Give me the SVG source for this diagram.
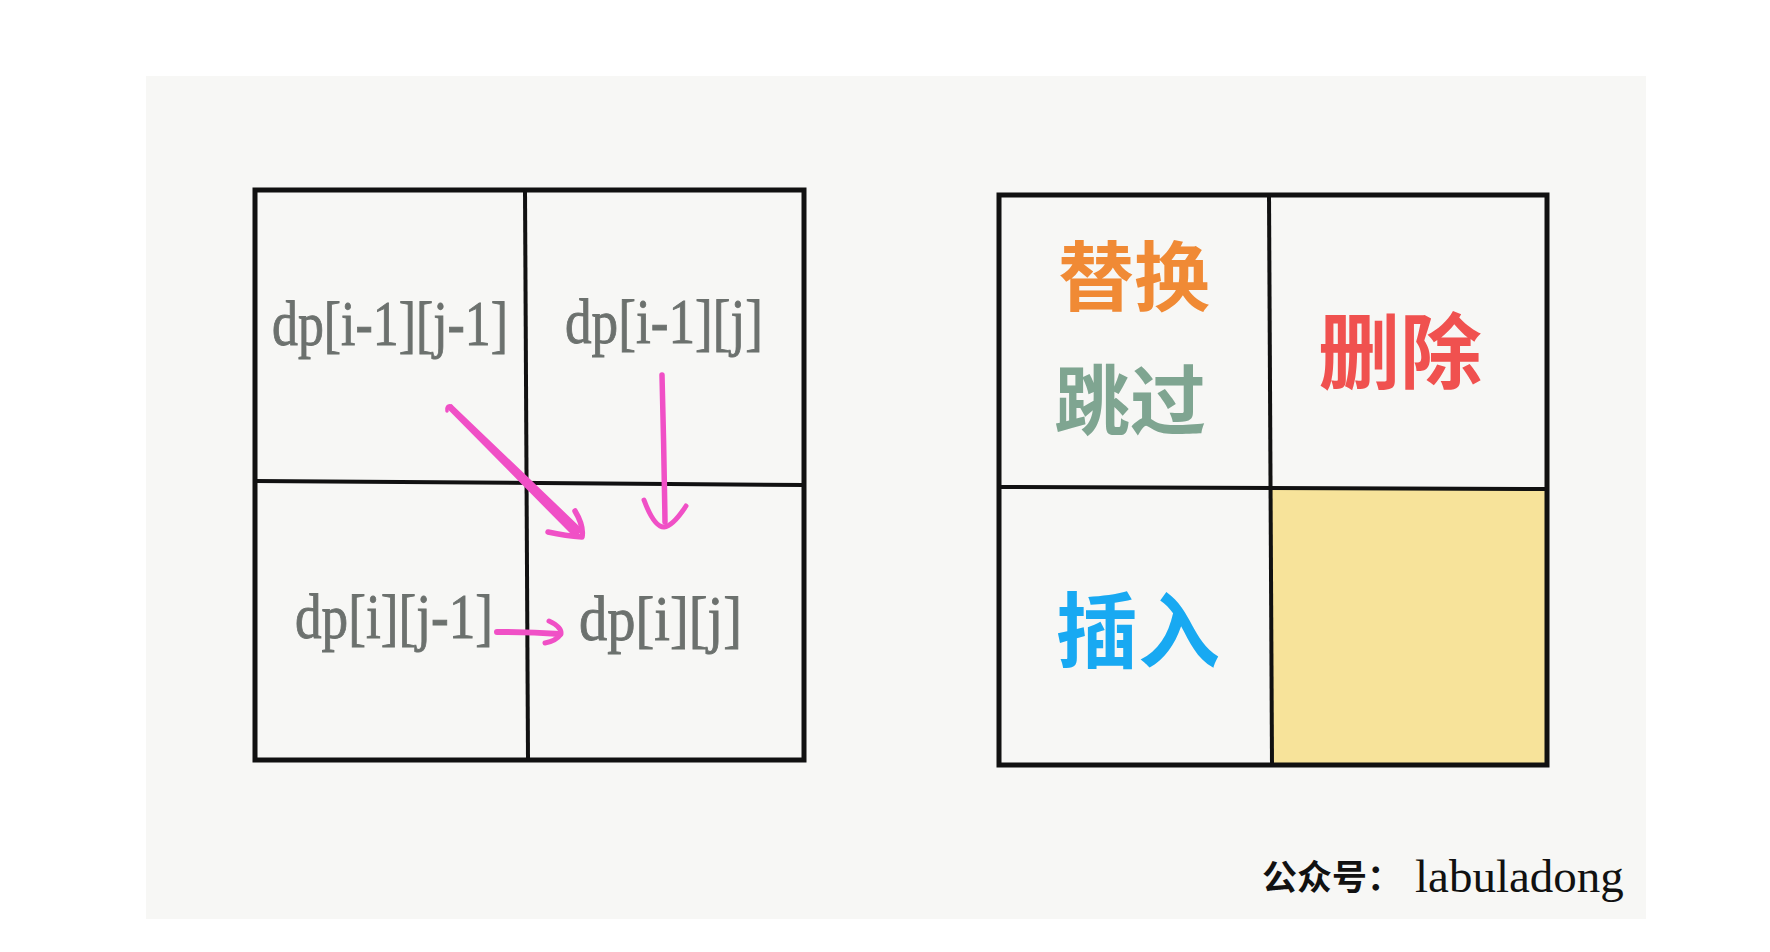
<svg xmlns="http://www.w3.org/2000/svg" width="1770" height="952" viewBox="0 0 1770 952">
<style>
.grid{fill:none;stroke:#111;stroke-width:5;stroke-linecap:square}
.inner{stroke:#111;stroke-width:4;fill:none}
.dp{font-family:"Liberation Serif","Times New Roman",serif;font-size:64px;fill:#6C716E;stroke:#6C716E;stroke-width:0.9}
.cjk{font-family:"Noto Sans CJK SC","Noto Sans",sans-serif;font-weight:700;text-anchor:middle}
.pen{fill:none;stroke:#F050C6;stroke-linecap:round;stroke-linejoin:round}
</style>
<rect x="0" y="0" width="1770" height="952" fill="#FFFFFF"/>
<rect x="146" y="76" width="1500" height="843" fill="#F7F7F5"/>

<g id="left-grid">
  <rect class="grid" x="255" y="190" width="549" height="570"/>
  <line class="inner" x1="525" y1="190" x2="528" y2="760"/>
  <line class="inner" x1="255" y1="481" x2="804" y2="485"/>
</g>
<g id="cell-dp-i-1-j-1"><text class="dp" x="272" y="345" textLength="236" lengthAdjust="spacingAndGlyphs">dp[i-1][j-1]</text></g>
<g id="cell-dp-i-1-j"><text class="dp" x="565" y="343" textLength="198" lengthAdjust="spacingAndGlyphs">dp[i-1][j]</text></g>
<g id="cell-dp-i-j-1"><text class="dp" x="295" y="638" textLength="198" lengthAdjust="spacingAndGlyphs">dp[i][j-1]</text></g>
<g id="cell-dp-i-j"><text class="dp" x="579" y="640" textLength="163" lengthAdjust="spacingAndGlyphs">dp[i][j]</text></g>

<g id="connectors">
  <path class="pen" stroke-width="3.5" d="M447,411 Q446,405 451,406"/>
  <polygon points="448.6,408.4 451.4,405.6 581.2,529.8 574.8,536.2" fill="#F050C6" stroke="#F050C6" stroke-width="2.5" stroke-linejoin="round"/>
  <path class="pen" stroke-width="5.5" d="M575,511 Q584,526 582,537 Q566,536 548,532"/>
  <path class="pen" stroke-width="5.5" d="M662,375 Q664,450 665,522"/>
  <path class="pen" stroke-width="5" d="M644,500 Q654,527 664,527 Q673,526 686,506"/>
  <path class="pen" stroke-width="6" d="M497,632 Q530,632 560,634"/>
  <path class="pen" stroke-width="5" d="M549,621 Q562,627 561,634 Q556,641 545,643"/>
</g>

<g id="right-grid">
  <rect x="1272" y="489" width="275" height="276" fill="#F7E39A"/>
  <rect class="grid" x="999" y="195" width="548" height="570"/>
  <line class="inner" x1="1269" y1="195" x2="1272" y2="765"/>
  <line class="inner" x1="999" y1="487" x2="1547" y2="489"/>
</g>
<g id="cell-replace-skip">
  <text class="cjk" x="1134" y="305" font-size="76" fill="#F08A35">替换</text>
  <text class="cjk" x="1130" y="429" font-size="76" fill="#7FA591">跳过</text>
</g>
<g id="cell-delete"><text class="cjk" x="1400" y="382" font-size="82" fill="#F0514F">删除</text></g>
<g id="cell-insert"><text class="cjk" x="1138" y="661" font-size="82" fill="#18A9F2">插入</text></g>

<g id="watermark">
  <text x="1262" y="890" font-family="'Noto Sans CJK SC','Noto Sans',sans-serif" font-weight="700" font-size="35" fill="#111">公众号：</text>
  <text x="1415" y="892" font-family="'Liberation Serif','Times New Roman',serif" font-size="47" fill="#111">labuladong</text>
</g>
</svg>
